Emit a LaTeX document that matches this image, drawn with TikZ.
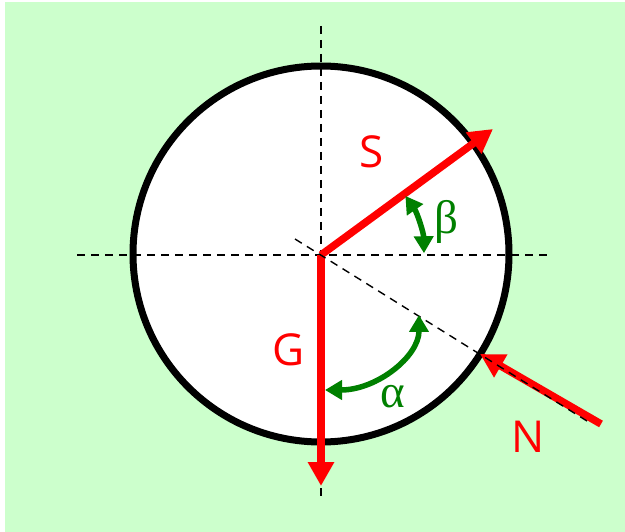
\documentclass[tikz,border=0pt]{standalone}
\usepackage{fontspec}
\setmainfont{Open Sans}
\newfontfamily\greekfont{Liberation Serif}
\usetikzlibrary{arrows.meta}
\definecolor{bg}{RGB}{204,255,204}
\definecolor{grn}{RGB}{0,128,0}
\definecolor{rd}{RGB}{255,0,0}
\tikzset{
  guide/.style={black, line width=1.4pt, dash pattern=on 8pt off 6pt},
  force/.style={rd, line width=7.5pt, -{Triangle[length=24pt,width=25pt]}},
  anglearc/.style={grn, line width=5.5pt, {Triangle[length=17pt,width=19pt]}-{Triangle[length=17pt,width=19pt]}},
  lbl/.style={inner sep=0pt, font=\fontsize{44}{44}\selectfont},
  glbl/.style={inner sep=0pt, font=\fontsize{47}{47}\selectfont\greekfont},
}
\begin{document}
\begin{tikzpicture}[x=1pt,y=-1pt]
\useasboundingbox (0,0) rectangle (625,532);
\fill[bg] (5,2) rectangle (625,532);
% body
\node[circle, draw=black, line width=7pt, fill=white, minimum size=376pt, inner sep=0pt] (body) at (321,254) {};
% reference points
\coordinate (O) at (321,255);
\coordinate (hl) at (77,255);
\coordinate (hr) at (548,255);
\coordinate (vt) at (321,26);
\coordinate (vb) at (321,496);
\coordinate (nl) at (295,239);
\coordinate (nr) at (587,421);
\coordinate (Stip) at (493,129);
\coordinate (Gtip) at (321,486);
\coordinate (Nstart) at (601,424);
\coordinate (Ntip) at (480,354);
% guide lines
\draw[guide] (hl) -- (hr);
\draw[guide] (vt) -- (vb);
% forces
\draw[force] (O) -- (Stip);
\draw[force] (O) -- (Gtip);
\draw[force] (Nstart) -- (Ntip);
\draw[guide] (nl) -- (nr);
% angles
\draw[anglearc] (O) ++(-35:103) arc[start angle=-35, end angle=-1, radius=103];
\draw[anglearc] (419,315) arc[start angle=0, end angle=90, x radius=94, y radius=75];
% labels
\node[lbl, text=rd] (S) at (372,152) {S};
\node[lbl, text=rd] (G) at (289,350) {G};
\node[lbl, text=rd] (N) at (528,437) {N};
\node[glbl, text=grn] (beta) at (446,222) {β};
\node[glbl, text=grn] (alpha) at (393,397) {α};
\end{tikzpicture}
\end{document}
